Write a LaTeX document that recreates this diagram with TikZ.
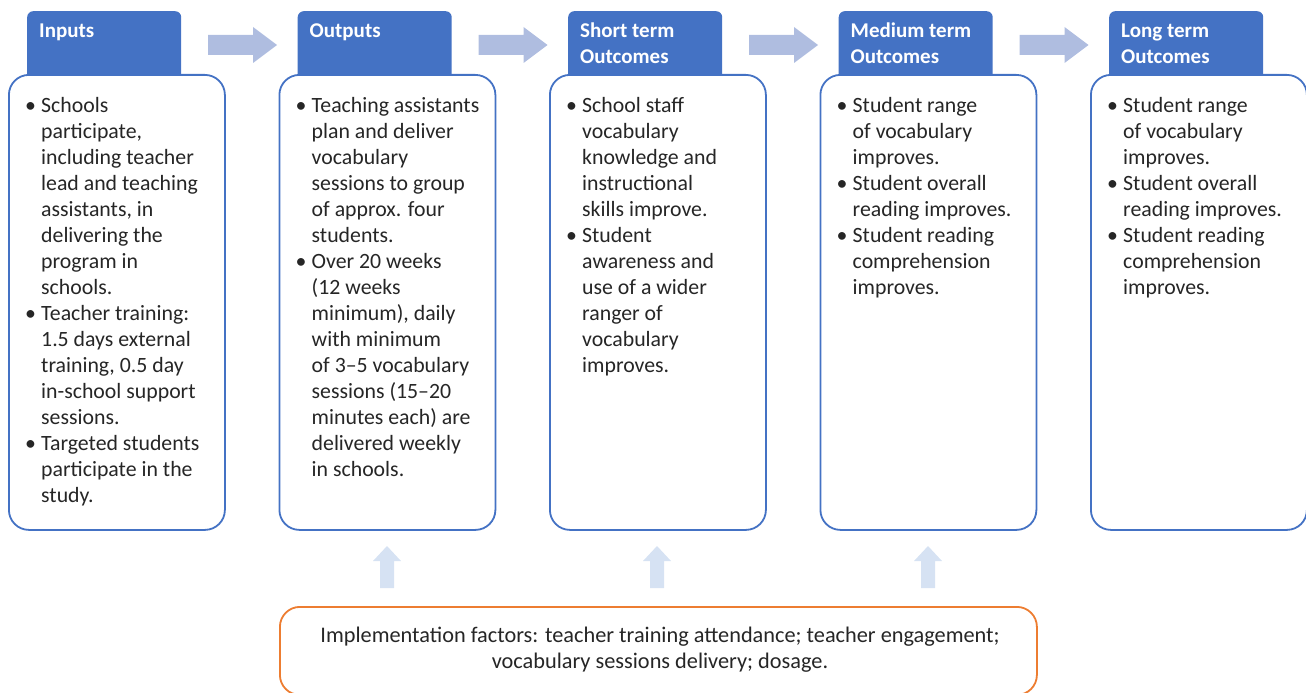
\documentclass[tikz,border=0pt]{standalone}
\usepackage{fontspec}
\setmainfont{Carlito}
\definecolor{hdrblue}{HTML}{4472C4}
\definecolor{arrblue}{HTML}{AFBDE0}
\definecolor{uparr}{HTML}{D6E2F3}
\definecolor{orng}{HTML}{ED7D31}
\definecolor{txt}{HTML}{262626}
\newcommand\bl{\makebox[16pt][l]{\textbullet}}
\begin{document}
\begin{tikzpicture}[x=1pt,y=-1pt,
  hdrbox/.style={fill=hdrblue, rounded corners=6pt, minimum width=154pt, minimum height=70pt, anchor=north west, inner sep=0pt},
  bodybox/.style={draw=hdrblue, line width=1.8pt, fill=white, rounded corners=20pt, minimum width=216pt, minimum height=455pt, anchor=north west, inner sep=0pt},
  htxt/.style={text=white, font=\bfseries\fontsize{21}{26}\selectfont, align=left, anchor=base west, inner sep=0pt},
  btxt/.style={text=txt, font=\fontsize{21.8}{26}\selectfont, anchor=base west, inner sep=0pt},
  rarr/.style={fill=arrblue},
  uarr/.style={fill=uparr}]
\useasboundingbox (0,0) rectangle (1306,693);

% headers
\node[hdrbox] (h1) at (27,11) {};
\node[hdrbox] (h2) at (297.5,11) {};
\node[hdrbox] (h3) at (568,11) {};
\node[hdrbox] (h4) at (838.5,11) {};
\node[hdrbox] (h5) at (1109,11) {};

% bodies
\node[bodybox] (b1) at (8,74) {};
\node[bodybox] (b2) at (278.5,74) {};
\node[bodybox] (b3) at (549,74) {};
\node[bodybox] (b4) at (819.5,74) {};
\node[bodybox] (b5) at (1090,74) {};

% header texts
\node[htxt] (t1) at (39,37.5) {Inputs};
\node[htxt] (t2) at (309.5,37.5) {Outputs};
\node[htxt] (t3) at (580,37.5) {\begin{tabular}[t]{@{}l@{}}Short term\\Outcomes\end{tabular}};
\node[htxt] (t4) at (850.5,37.5) {\begin{tabular}[t]{@{}l@{}}Medium term\\Outcomes\end{tabular}};
\node[htxt] (t5) at (1121,37.5) {\begin{tabular}[t]{@{}l@{}}Long term\\Outcomes\end{tabular}};

% body texts
\node[btxt] (c1) at (25,112) {\begin{tabular}[t]{@{}l@{}l@{}}
\bl & Schools\\ & participate,\\ & including teacher\\ & lead and teaching\\ & assistants, in\\ & delivering the\\ & program in\\ & schools.\\
\bl & Teacher training:\\ & 1.5 days external\\ & training, 0.5 day\\ & in-school support\\ & sessions.\\
\bl & Targeted students\\ & participate in the\\ & study.
\end{tabular}};
\node[btxt] (c2) at (295.5,112) {\begin{tabular}[t]{@{}l@{}l@{}}
\bl & Teaching assistants\\ & plan and deliver\\ & vocabulary\\ & sessions to group\\ & of approx. four\\ & students.\\
\bl & Over 20 weeks\\ & (12 weeks\\ & minimum), daily\\ & with minimum\\ & of 3--5 vocabulary\\ & sessions (15--20\\ & minutes each) are\\ & delivered weekly\\ & in schools.
\end{tabular}};
\node[btxt] (c3) at (566,112) {\begin{tabular}[t]{@{}l@{}l@{}}
\bl & School staff\\ & vocabulary\\ & knowledge and\\ & instructional\\ & skills improve.\\
\bl & Student\\ & awareness and\\ & use of a wider\\ & ranger of\\ & vocabulary\\ & improves.
\end{tabular}};
\node[btxt] (c4) at (836.5,112) {\begin{tabular}[t]{@{}l@{}l@{}}
\bl & Student range\\ & of vocabulary\\ & improves.\\
\bl & Student overall\\ & reading improves.\\
\bl & Student reading\\ & comprehension\\ & improves.
\end{tabular}};
\node[btxt] (c5) at (1107,112) {\begin{tabular}[t]{@{}l@{}l@{}}
\bl & Student range\\ & of vocabulary\\ & improves.\\
\bl & Student overall\\ & reading improves.\\
\bl & Student reading\\ & comprehension\\ & improves.
\end{tabular}};

% right block arrows
\foreach \x in {208,478.5,749,1019.5} {
  \fill[rarr] (\x,35) -- (\x+45,35) -- (\x+45,27) -- (\x+69,45) -- (\x+45,63) -- (\x+45,55) -- (\x,55) -- cycle;
}
% up block arrows
\foreach \x in {387,657,928} {
  \fill[uarr] (\x-7,588) -- (\x-7,561) -- (\x-14,561) -- (\x,546) -- (\x+14,561) -- (\x+7,561) -- (\x+7,588) -- cycle;
}

% bottom box
\node[draw=orng, line width=1.8pt, fill=white, rounded corners=20pt, minimum width=757pt, minimum height=88pt, anchor=north west, inner sep=0pt] (f) at (279,606) {};
\node[text=txt, font=\fontsize{22.3}{26}\selectfont, align=center, inner sep=0pt] (ft) at (660,650) {Implementation factors: teacher training attendance; teacher engagement;\\vocabulary sessions delivery; dosage.};
\end{tikzpicture}
\end{document}
